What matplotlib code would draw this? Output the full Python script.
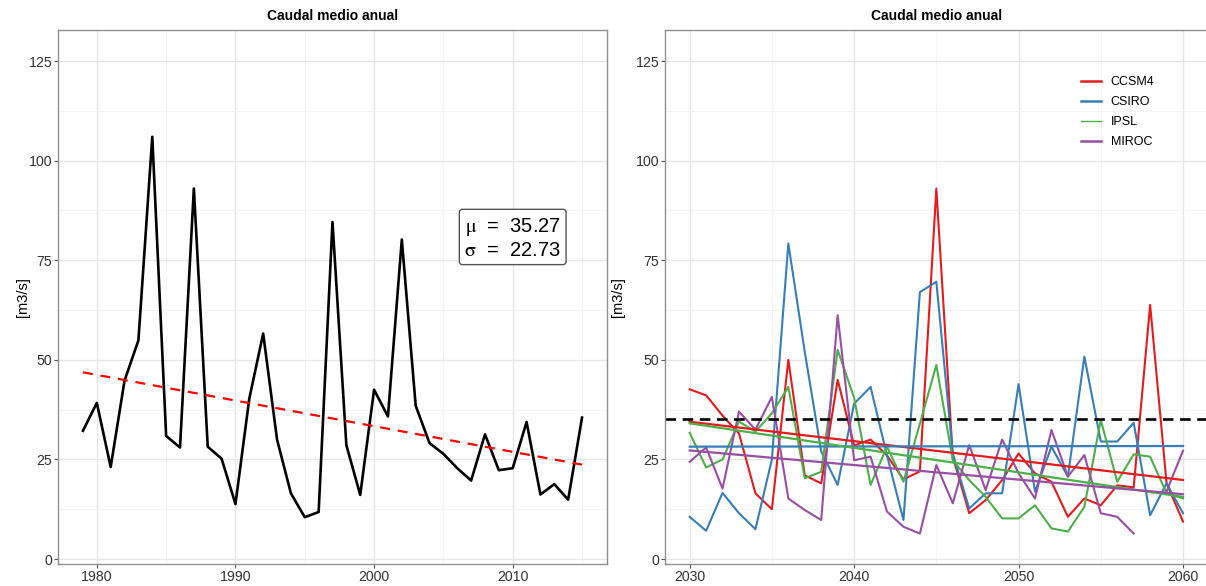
import numpy as np
import matplotlib.pyplot as plt
from matplotlib.lines import Line2D
from matplotlib.ticker import MultipleLocator

plt.rcParams['font.family'] = ['Liberation Sans', 'DejaVu Sans']
plt.rcParams['mathtext.fontset'] = 'stix'

# historical annual mean flow
hist_years = np.arange(1979, 2016)
hist_flow = [32.2, 39.2, 23.1, 44.8, 54.9, 106.0, 30.9, 28.0, 93.0, 28.2,
             25.2, 13.8, 40.3, 56.6, 30.0, 16.5, 10.5, 11.8, 84.6, 28.6,
             16.1, 42.5, 35.8, 80.2, 38.5, 29.1, 26.4, 22.8, 19.7, 31.3,
             22.3, 22.8, 34.4, 16.2, 18.8, 14.9, 35.5]
hist_mean = 35.27
stats_text = "$\\mathrm{\\mu}$  =  35.27\n$\\mathrm{\\sigma}$  =  22.73"

# projected flows per model
fut_years = np.arange(2030, 2061)
ccsm4 = [42.6, 41.1, 36.0, 31.5, 16.5, 12.5, 50.0, 21.0, 19.0, 45.0,
         28.5, 30.0, 26.0, 20.0, 22.0, 93.0, 25.7, 11.5, 14.8, 19.8,
         26.5, 21.5, 19.4, 10.6, 15.2, 13.5, 18.5, 18.0, 63.8, 19.0, 9.4]
csiro = [10.6, 7.1, 16.6, 11.5, 7.5, 25.0, 79.2, 52.0, 27.0, 18.6,
         39.0, 43.2, 26.0, 9.8, 67.0, 69.6, 26.5, 12.7, 16.5, 16.5,
         43.9, 16.9, 28.2, 20.7, 50.8, 29.5, 29.5, 34.2, 11.0, 19.0, 11.5]
ipsl = [31.7, 23.0, 25.0, 34.5, 32.0, 36.6, 43.2, 20.3, 21.9, 52.5,
        40.5, 18.6, 28.2, 19.4, 34.0, 48.7, 24.8, 19.8, 15.6, 10.2,
        10.2, 13.5, 7.7, 6.9, 13.1, 34.9, 19.4, 26.3, 25.7, 16.5, 15.2]
miroc = [24.4, 28.0, 17.7, 37.0, 32.5, 40.7, 15.2, 12.3, 9.8, 61.2,
         24.8, 25.7, 11.9, 8.1, 6.4, 23.6, 14.0, 28.6, 17.3, 30.0,
         21.5, 15.2, 32.4, 20.7, 26.1, 11.5, 10.6, 6.4, np.nan, 17.0, 27.2]

model_names = ['CCSM4', 'CSIRO', 'IPSL', 'MIROC']
model_series = [ccsm4, csiro, ipsl, miroc]
model_colors = ['#E41A1C', '#377EB8', '#4DAF4A', '#984EA3']


def style_axes(ax, xlim, label_x):
    ax.set_xlim(*xlim)
    ax.set_ylim(-1.25, 132.8)
    ax.yaxis.set_major_locator(MultipleLocator(25))
    ax.yaxis.set_minor_locator(MultipleLocator(12.5))
    ax.xaxis.set_major_locator(MultipleLocator(10))
    ax.xaxis.set_minor_locator(MultipleLocator(5))
    ax.grid(which='major', color='#e6e6e6', lw=0.9)
    ax.grid(which='minor', color='#f3f3f3', lw=0.6)
    ax.set_axisbelow(True)
    for s in ax.spines.values():
        s.set_color('#8f8f8f')
        s.set_linewidth(1.0)
    ax.tick_params(which='major', length=3, width=0.8, color='#555555',
                   labelsize=10.2, labelcolor='#333333', pad=1)
    ax.tick_params(which='minor', length=0)
    ax.set_title('Caudal medio anual', fontsize=10, fontweight='bold', pad=7)
    ax.set_ylabel('[m3/s]', fontsize=10.5)
    ax.yaxis.set_label_coords(label_x, 0.5)


fig = plt.figure(figsize=(12.06, 5.86), dpi=100)
ax1 = fig.add_axes([0.0481, 0.0375, 0.4552, 0.9113])
ax2 = fig.add_axes([0.5514, 0.0375, 0.4500, 0.9113])

# left panel
style_axes(ax1, (1977.2, 2016.8), -0.051)
ax1.plot(hist_years, hist_flow, color='black', lw=1.9)
k, b = np.polyfit(hist_years, hist_flow, 1)
ax1.plot(hist_years, k * hist_years + b, color='#FF0000', lw=1.6,
         ls=(0, (4.5, 3.5)))
ax1.text(2010, 80.6, stats_text, ha='center', va='center', fontsize=14.5,
         linespacing=1.15,
         bbox=dict(boxstyle='round,pad=0.25,rounding_size=0.15', fc='white',
                   ec='#555555', lw=1.0))

# right panel
style_axes(ax2, (2028.5, 2061.5), -0.074)
for name, vals, col in zip(model_names, model_series, model_colors):
    ax2.plot(fut_years, vals, color=col, lw=1.5)
for name, vals, col in zip(model_names, model_series, model_colors):
    v = np.array(vals, dtype=float)
    ok = ~np.isnan(v)
    k, b = np.polyfit(fut_years[ok], v[ok], 1)
    ax2.plot(fut_years, k * fut_years + b, color=col, lw=1.6)
ax2.axhline(hist_mean, color='black', lw=1.9, ls=(0, (4, 2.5)))

handles = [Line2D([], [], color=c, lw=(1.0 if n == 'IPSL' else 1.8))
           for n, c in zip(model_names, model_colors)]
ax2.legend(handles, model_names, loc='upper left', bbox_to_anchor=(0.745, 0.935),
           frameon=False, fontsize=9, handlelength=1.6, labelspacing=0.65)

fig.savefig('out.png', dpi=100)
